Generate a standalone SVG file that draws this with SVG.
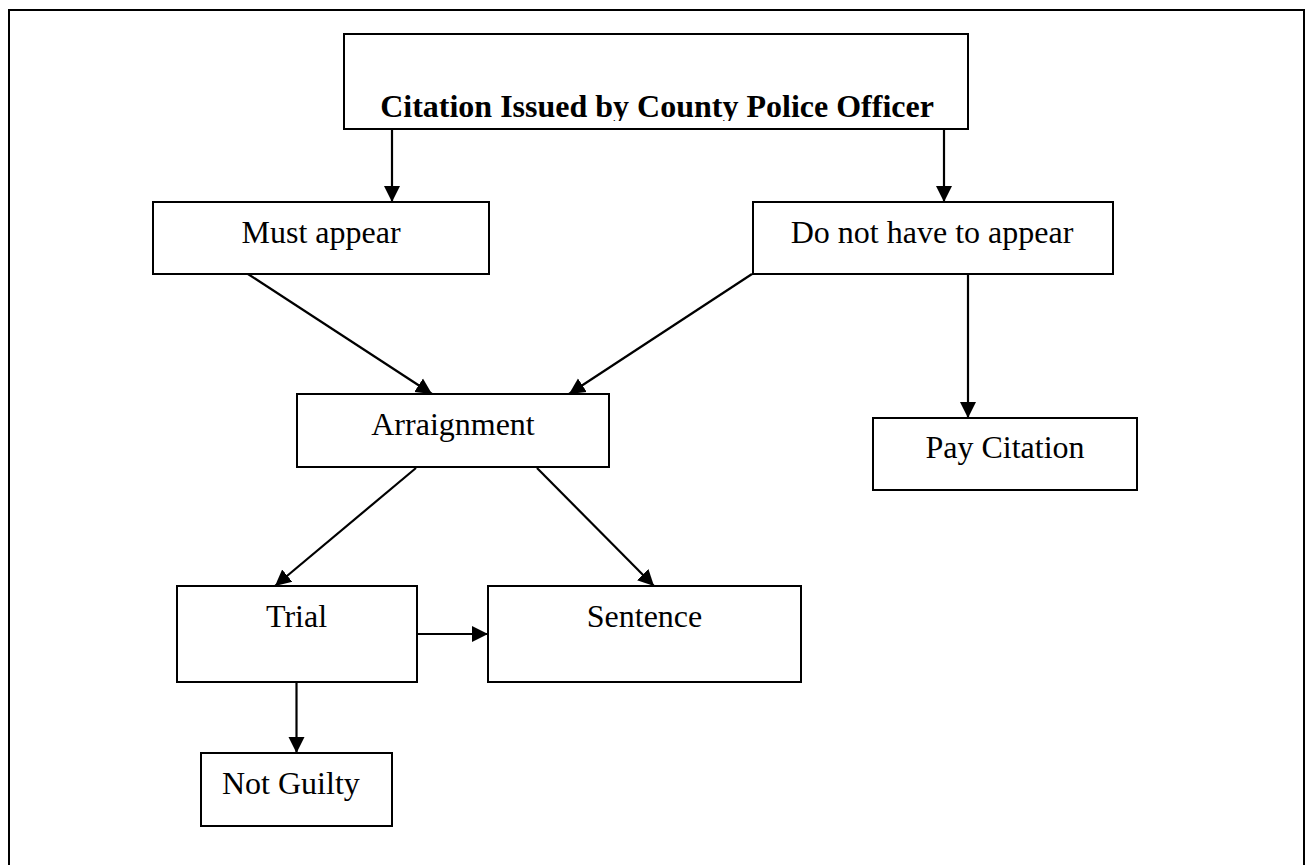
<svg xmlns="http://www.w3.org/2000/svg" width="1306" height="865" viewBox="0 0 1306 865">
<style>
.box{fill:#fff;stroke:#000;stroke-width:2}
.lbl{font-family:"Liberation Serif","Times New Roman",serif;font-size:32px;fill:#000}
.ttl{font-family:"Liberation Serif","Times New Roman",serif;font-size:32px;font-weight:bold;fill:#000}
.edge{stroke:#000;stroke-width:2.2;fill:none;marker-end:url(#arr)}
.frame{stroke:#000;stroke-width:2;fill:none}
</style>
<defs>
<marker id="arr" markerUnits="userSpaceOnUse" markerWidth="18" markerHeight="18" viewBox="0 0 18 18" refX="16" refY="9" orient="auto">
<path d="M0,1 L16,9 L0,17 Z" fill="#000"/>
</marker>
<clipPath id="tclip"><rect x="344" y="34" width="624" height="87"/></clipPath>
</defs>
<rect width="1306" height="865" fill="#fff"/>
<path class="frame" d="M9,865 V10 H1304 V865"/>
<g id="connectors">
<line class="edge" x1="392" y1="129" x2="392" y2="202"/>
<line class="edge" x1="944" y1="129" x2="944" y2="202"/>
<line class="edge" x1="248" y1="274" x2="432" y2="394"/>
<line class="edge" x1="752" y1="274" x2="569" y2="394"/>
<line class="edge" x1="968" y1="274" x2="968" y2="418"/>
<line class="edge" x1="416" y1="468" x2="275" y2="586"/>
<line class="edge" x1="537" y1="468" x2="654" y2="586"/>
<line class="edge" x1="417" y1="634" x2="488" y2="634"/>
<line class="edge" x1="296.5" y1="682" x2="296.5" y2="753"/>
</g>
<g id="citation">
<rect class="box" x="344" y="34" width="624" height="95"/>
<text class="ttl" x="657" y="117" text-anchor="middle" clip-path="url(#tclip)">Citation Issued by County Police Officer</text>
</g>
<g id="must-appear">
<rect class="box" x="153" y="202" width="336" height="72"/>
<text class="lbl" x="321" y="243" text-anchor="middle">Must appear</text>
</g>
<g id="do-not-appear">
<rect class="box" x="753" y="202" width="360" height="72"/>
<text class="lbl" x="932" y="243" text-anchor="middle">Do not have to appear</text>
</g>
<g id="arraignment">
<rect class="box" x="297" y="394" width="312" height="73"/>
<text class="lbl" x="453" y="435" text-anchor="middle">Arraignment</text>
</g>
<g id="pay-citation">
<rect class="box" x="873" y="418" width="264" height="72"/>
<text class="lbl" x="1005" y="458" text-anchor="middle">Pay Citation</text>
</g>
<g id="trial">
<rect class="box" x="177" y="586" width="240" height="96"/>
<text class="lbl" x="296.5" y="627" text-anchor="middle">Trial</text>
</g>
<g id="sentence">
<rect class="box" x="488" y="586" width="313" height="96"/>
<text class="lbl" x="644.5" y="627" text-anchor="middle">Sentence</text>
</g>
<g id="not-guilty">
<rect class="box" x="201" y="753" width="191" height="73"/>
<text class="lbl" x="222" y="794">Not Guilty</text>
</g>
</svg>
